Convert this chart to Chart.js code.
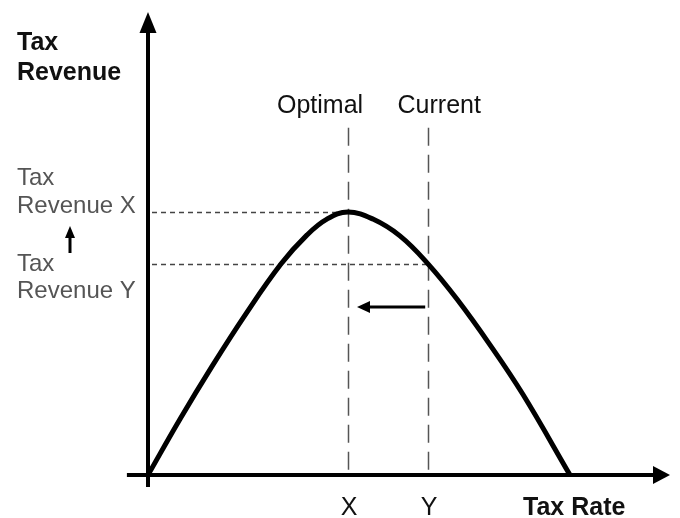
<!DOCTYPE html>
<html>
<head>
<meta charset="utf-8">
<script src="https://cdn.jsdelivr.net/npm/chart.js@4.4.1/dist/chart.umd.min.js"></script>
<style>
  html, body { margin: 0; background: #fff; }
  canvas { display: block; }
</style>
</head>
<body>
<canvas id="laffer" width="680" height="518"></canvas>
<script>
// ---- data (rate 0..100, revenue 0..100 at the peak) ----
const taxRate = [0, 7.6, 15.2, 23.0, 31.5, 37.7, 42.4, 47.4, 53.3, 59.7, 66.4, 73.2, 81.0, 88.9, 100];
const revenue = [0, 21.3, 41.4, 60.8, 80.2, 91.3, 97.3, 100, 97.3, 90.9, 80.2, 66.9, 49.6, 30.5, 0];

const rateMarks = [47.4, 66.4];            // optimal, current
const rateTickLabels = ["X", "Y"];
const rateMarkTitles = ["Optimal", "Current"];
const revenueMarks = [100, 80.2];          // revenue at X, revenue at Y
const revenueLabels = [["Tax", "Revenue X"], ["Tax", "Revenue Y"]];
const shiftLevel = 63.9;                   // height of the "move to optimal" arrow

const FONT = '"Liberation Sans", Arial, Helvetica, sans-serif';

function head(ctx, tipX, tipY, dx, dy, len, half) {
  // filled triangle pointing in direction (dx, dy)
  const bx = tipX - dx * len, by = tipY - dy * len;
  ctx.beginPath();
  ctx.moveTo(tipX, tipY);
  ctx.lineTo(bx - dy * half, by + dx * half);
  ctx.lineTo(bx + dy * half, by - dx * half);
  ctx.closePath();
  ctx.fill();
}

const lafferDecor = {
  id: "lafferDecor",
  beforeDatasetsDraw(chart) {
    const { ctx, scales: { x, y } } = chart;
    const x0 = x.getPixelForValue(0);
    const y0 = y.getPixelForValue(0);
    ctx.save();

    // dotted revenue guides
    ctx.strokeStyle = "#444";
    ctx.lineWidth = 1.5;
    ctx.setLineDash([5, 4]);
    revenueMarks.forEach((r, i) => {
      const py = Math.round(y.getPixelForValue(r)) + 0.5;
      ctx.beginPath();
      ctx.moveTo(x0 + 4, py);
      ctx.lineTo(x.getPixelForValue(rateMarks[i]), py);
      ctx.stroke();
    });

    // dashed rate guides
    ctx.strokeStyle = "#555";
    ctx.setLineDash([18, 9]);
    rateMarks.forEach((m) => {
      const px = Math.round(x.getPixelForValue(m)) + 0.5;
      ctx.beginPath();
      ctx.moveTo(px, y.getPixelForValue(132));
      ctx.lineTo(px, y0);
      ctx.stroke();
    });
    ctx.setLineDash([]);

    // axes with arrow heads
    ctx.strokeStyle = "#000";
    ctx.fillStyle = "#000";
    ctx.lineWidth = 4;
    const yTop = y.getPixelForValue(176);
    ctx.beginPath();
    ctx.moveTo(x0, y.getPixelForValue(-4.6));
    ctx.lineTo(x0, yTop + 16);
    ctx.stroke();
    head(ctx, x0, yTop, 0, -1, 21, 8.5);

    const xEnd = x.getPixelForValue(123.7);
    ctx.beginPath();
    ctx.moveTo(x.getPixelForValue(-5), y0);
    ctx.lineTo(xEnd - 14, y0);
    ctx.stroke();
    head(ctx, xEnd, y0, 1, 0, 17, 9);
    ctx.restore();
  },
  afterDatasetsDraw(chart) {
    const { ctx, scales: { x, y } } = chart;
    ctx.save();
    ctx.fillStyle = "#000";
    ctx.strokeStyle = "#000";

    // arrow from current toward optimal
    const ay = y.getPixelForValue(shiftLevel);
    const aFrom = x.getPixelForValue(rateMarks[1]) - 3;
    const aTo = x.getPixelForValue(rateMarks[0]) + 9;
    ctx.lineWidth = 3;
    ctx.beginPath();
    ctx.moveTo(aFrom, ay);
    ctx.lineTo(aTo + 10, ay);
    ctx.stroke();
    head(ctx, aTo, ay, -1, 0, 13, 6);

    // small up arrow between the two revenue labels
    ctx.lineWidth = 3;
    ctx.beginPath();
    ctx.moveTo(70, 253);
    ctx.lineTo(70, 236);
    ctx.stroke();
    head(ctx, 70, 226, 0, -1, 12, 5);

    ctx.textBaseline = "alphabetic";

    // axis titles
    ctx.font = "bold 25px " + FONT;
    ctx.fillStyle = "#111";
    ctx.textAlign = "left";
    ctx.fillText("Tax", 17, 50);
    ctx.fillText("Revenue", 17, 80);
    ctx.fillText("Tax Rate", 523, 515);

    // rate tick labels and titles
    ctx.font = "25px " + FONT;
    ctx.textAlign = "center";
    rateMarks.forEach((m, i) => {
      const px = x.getPixelForValue(m);
      ctx.fillText(rateTickLabels[i], px + 1, 515);
    });
    ctx.fillText(rateMarkTitles[0], x.getPixelForValue(rateMarks[0]) - 28, 113);
    ctx.fillText(rateMarkTitles[1], x.getPixelForValue(rateMarks[1]) + 11, 113);

    // revenue labels
    ctx.font = "24px " + FONT;
    ctx.fillStyle = "#555";
    ctx.textAlign = "left";
    const baselines = [[185, 213], [271, 298]];
    revenueLabels.forEach((lines, i) => {
      lines.forEach((t, j) => ctx.fillText(t, 17, baselines[i][j]));
    });
    ctx.restore();
  }
};

new Chart(document.getElementById("laffer"), {
  type: "line",
  data: {
    datasets: [{
      data: taxRate.map((r, i) => ({ x: r, y: revenue[i] })),
      borderColor: "#000",
      borderWidth: 5,
      pointRadius: 0,
      tension: 0.4,
      clip: false,
      fill: false,
    }],
  },
  options: {
    responsive: false,
    animation: false,
    layout: { padding: { left: 148, right: 110, top: 212, bottom: 43 } },
    scales: {
      x: { type: "linear", min: 0, max: 100, display: false },
      y: { min: 0, max: 100, display: false },
    },
    plugins: { legend: { display: false }, tooltip: { enabled: false } },
  },
  plugins: [lafferDecor],
});
</script>
</body>
</html>
